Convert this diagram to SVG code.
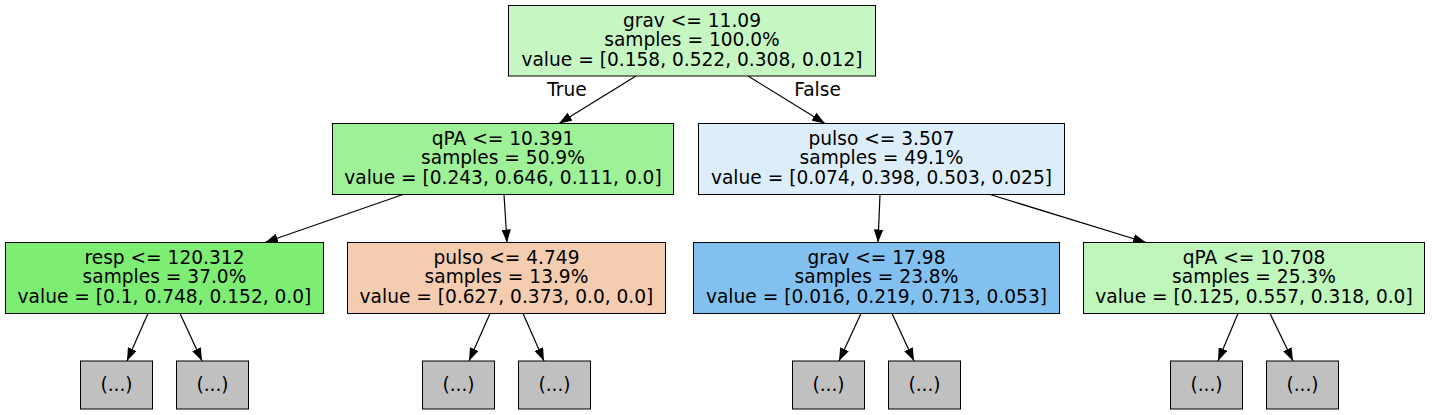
<svg xmlns="http://www.w3.org/2000/svg" width="1432" height="415" viewBox="0 0 1432 415">
<defs>
<style>
.n rect{stroke:#000;stroke-width:1}
text{font-family:"DejaVu Sans","Liberation Sans",sans-serif;font-size:18.6px;fill:#000;text-anchor:middle}
.e line{stroke:#000;stroke-width:1.2;marker-end:url(#ah)}
.leaf rect{fill:#c0c0c0}
</style>
<marker id="ah" markerUnits="userSpaceOnUse" markerWidth="13" markerHeight="9.4" refX="13" refY="4.7" orient="auto" viewBox="0 0 13 9.4">
<path d="M0,0L13,4.7L0,9.4z" fill="#000"/>
</marker>
</defs>
<rect width="1432" height="415" fill="#fff"/>
<g id="edges" class="e">
<line x1="636" y1="76" x2="559" y2="123.5"/>
<line x1="748" y1="76" x2="825" y2="123.5"/>
<line x1="403" y1="194.5" x2="265" y2="242.5"/>
<line x1="504" y1="194.5" x2="507" y2="242.5"/>
<line x1="880" y1="194.5" x2="878" y2="242.5"/>
<line x1="990" y1="194.5" x2="1146" y2="242.5"/>
<line x1="148" y1="313.5" x2="127" y2="361"/>
<line x1="180" y1="313.5" x2="202" y2="361"/>
<line x1="490" y1="313.5" x2="469" y2="361"/>
<line x1="523" y1="313.5" x2="544" y2="361"/>
<line x1="861" y1="313.5" x2="839" y2="361"/>
<line x1="892" y1="313.5" x2="914" y2="361"/>
<line x1="1238" y1="313.5" x2="1218" y2="361"/>
<line x1="1270" y1="313.5" x2="1293" y2="361"/>
<text x="567" y="96">True</text>
<text x="817.5" y="96">False</text>
</g>
<g id="node0" class="n">
<rect x="508.5" y="5.5" width="367" height="70.5" fill="#c6f7c2"/>
<text x="692" y="26.8">grav &lt;= 11.09</text>
<text x="692" y="46.3">samples = 100.0%</text>
<text x="692" y="65.8">value = [0.158, 0.522, 0.308, 0.012]</text>
</g>
<g id="node1" class="n">
<rect x="332.5" y="123.5" width="341" height="71" fill="#9ef196"/>
<text x="503" y="144.8">qPA &lt;= 10.391</text>
<text x="503" y="164.3">samples = 50.9%</text>
<text x="503" y="183.8">value = [0.243, 0.646, 0.111, 0.0]</text>
</g>
<g id="node2" class="n">
<rect x="698.5" y="123.5" width="366" height="71" fill="#ddeefa"/>
<text x="881.5" y="144.8">pulso &lt;= 3.507</text>
<text x="881.5" y="164.3">samples = 49.1%</text>
<text x="881.5" y="183.8">value = [0.074, 0.398, 0.503, 0.025]</text>
</g>
<g id="node3" class="n">
<rect x="5.5" y="242.5" width="318" height="71" fill="#7eed74"/>
<text x="164.5" y="263.8">resp &lt;= 120.312</text>
<text x="164.5" y="283.3">samples = 37.0%</text>
<text x="164.5" y="302.8">value = [0.1, 0.748, 0.152, 0.0]</text>
</g>
<g id="node4" class="n">
<rect x="347.5" y="242.5" width="318" height="71" fill="#f4ccaf"/>
<text x="506.5" y="263.8">pulso &lt;= 4.749</text>
<text x="506.5" y="283.3">samples = 13.9%</text>
<text x="506.5" y="302.8">value = [0.627, 0.373, 0.0, 0.0]</text>
</g>
<g id="node5" class="n">
<rect x="693.5" y="242.5" width="366" height="71" fill="#82c1ef"/>
<text x="876.5" y="263.8">grav &lt;= 17.98</text>
<text x="876.5" y="283.3">samples = 23.8%</text>
<text x="876.5" y="302.8">value = [0.016, 0.219, 0.713, 0.053]</text>
</g>
<g id="node6" class="n">
<rect x="1083.5" y="242.5" width="341" height="71" fill="#bff6ba"/>
<text x="1254" y="263.8">qPA &lt;= 10.708</text>
<text x="1254" y="283.3">samples = 25.3%</text>
<text x="1254" y="302.8">value = [0.125, 0.557, 0.318, 0.0]</text>
</g>
<g id="leaf1" class="n leaf"><rect x="80.5" y="361" width="72" height="48"/><text x="116.5" y="391">(...)</text></g>
<g id="leaf2" class="n leaf"><rect x="176.5" y="361" width="72" height="48"/><text x="212.5" y="391">(...)</text></g>
<g id="leaf3" class="n leaf"><rect x="422.5" y="361" width="72" height="48"/><text x="458.5" y="391">(...)</text></g>
<g id="leaf4" class="n leaf"><rect x="518.5" y="361" width="72" height="48"/><text x="554.5" y="391">(...)</text></g>
<g id="leaf5" class="n leaf"><rect x="792.5" y="361" width="72" height="48"/><text x="828.5" y="391">(...)</text></g>
<g id="leaf6" class="n leaf"><rect x="888.5" y="361" width="72" height="48"/><text x="924.5" y="391">(...)</text></g>
<g id="leaf7" class="n leaf"><rect x="1170.5" y="361" width="72" height="48"/><text x="1206.5" y="391">(...)</text></g>
<g id="leaf8" class="n leaf"><rect x="1266.5" y="361" width="72" height="48"/><text x="1302.5" y="391">(...)</text></g>
</svg>
